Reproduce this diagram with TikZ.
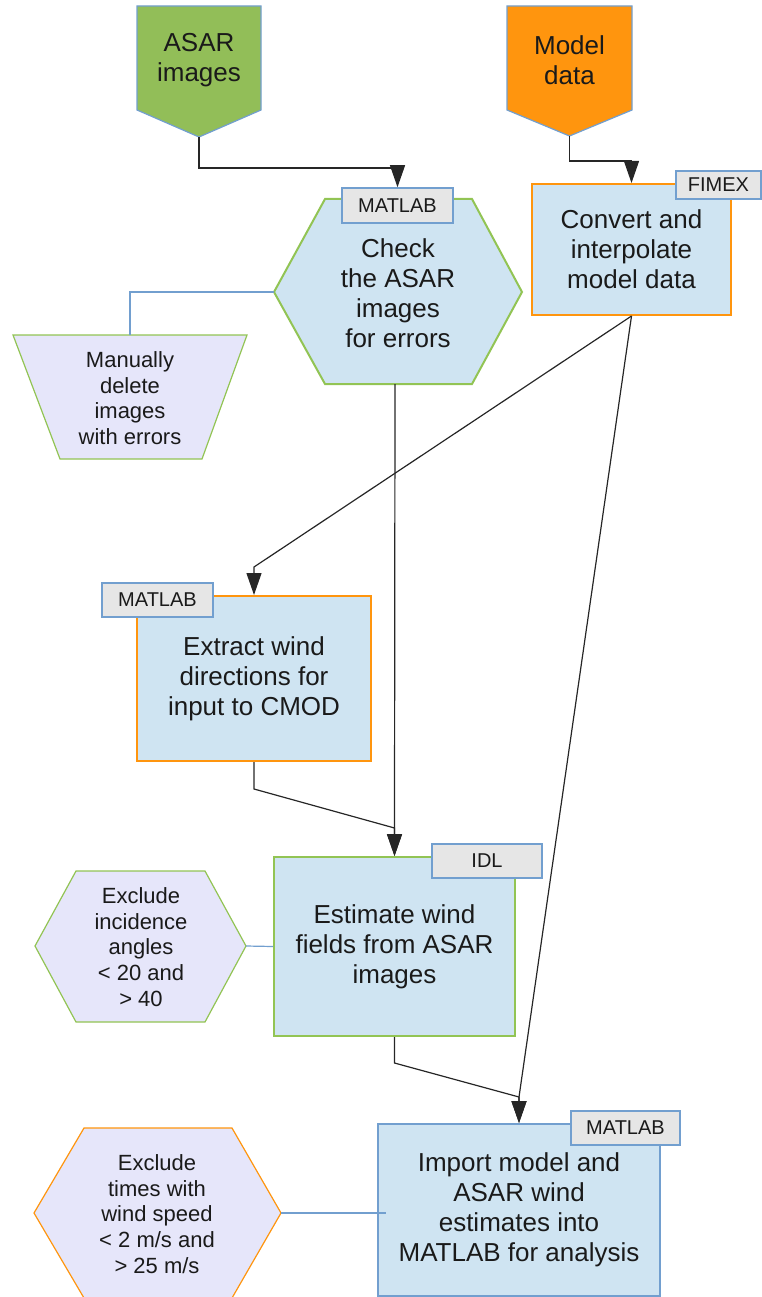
\documentclass[tikz,border=0pt]{standalone}
\usepackage{fontspec}
\setmainfont{Liberation Sans}
\usetikzlibrary{arrows.meta}
\definecolor{boxblue}{RGB}{207,228,242}
\definecolor{lav}{RGB}{230,230,250}
\definecolor{taggray}{RGB}{230,230,230}
\definecolor{edgeblue}{RGB}{114,159,207}
\definecolor{grn}{RGB}{146,196,84}
\definecolor{org}{RGB}{255,149,14}
\definecolor{grnfill}{RGB}{146,190,88}
\definecolor{txt}{RGB}{26,26,26}
\tikzset{
 bigtxt/.style={font=\fontsize{26}{30}\selectfont, text=txt, align=center, inner sep=0pt},
 smalltxt/.style={font=\fontsize{22}{25.7}\selectfont, text=txt, align=center, inner sep=0pt},
 tagbox/.style={draw=edgeblue, line width=1.5pt, fill=taggray, font=\fontsize{20}{22}\selectfont, inner sep=0pt, text=txt},
 procbox/.style={fill=boxblue, line width=2pt, inner sep=0pt, bigtxt},
 conn/.style={draw=black!85, line width=1.2pt, -{Triangle[length=22pt,width=15pt]}},
 plainconn/.style={draw=black!85, line width=1.2pt},
 bconn/.style={draw=edgeblue, line width=1.2pt},
}
\begin{document}
\begin{tikzpicture}[x=1pt,y=-1pt]
\useasboundingbox (0,0) rectangle (762,1297);

% input pentagons
\draw[fill=grnfill, draw=edgeblue, line width=1.2pt] (137,6) -- (261,6) -- (261,110) -- (199,137) -- (137,110) -- cycle;
\node[bigtxt] (asar) at (199,60) {ASAR\\images};
\coordinate (asarTip) at (199,137);
\draw[fill=org, draw=edgeblue, line width=1.2pt] (507,6) -- (632,6) -- (632,110) -- (569.5,136) -- (507,110) -- cycle;
\node[bigtxt] (model) at (569.5,60) {Model\\data};
\coordinate (modelTip) at (569.5,136);

% check hexagon
\draw[fill=boxblue, draw=grn, line width=2pt] (274,292) -- (325,199) -- (472,199) -- (522,292) -- (472,384) -- (325,384) -- cycle;
\node[bigtxt] (check) at (398,293) {Check\\the ASAR\\images\\for errors};
\coordinate (checkW) at (274,292);
\coordinate (checkS) at (395,384);
\node[tagbox, minimum width=111pt, minimum height=35pt] (checktag) at (397.5,205.5) {MATLAB};

% trapezoid
\draw[fill=lav, draw=grn, line width=1.2pt] (13,335) -- (247,335) -- (202,459) -- (60,459) -- cycle;
\node[smalltxt] (manual) at (130,398) {Manually\\delete\\images\\with errors};
\coordinate (manualN) at (130,335);

% convert box
\node[procbox, draw=org, minimum width=199pt, minimum height=131pt] (convert) at (631.5,249.5) {Convert and\\interpolate\\model data};
\node[tagbox, minimum width=85pt, minimum height=28pt] (fimex) at (718.5,185) {FIMEX};

% extract box
\node[procbox, draw=org, minimum width=234pt, minimum height=165pt] (extract) at (254,678.5) {Extract wind\\directions for\\input to CMOD};
\node[tagbox, minimum width=111pt, minimum height=34pt] (extag) at (157.5,600) {MATLAB};

% estimate box
\node[procbox, draw=grn, minimum width=241pt, minimum height=179pt] (estimate) at (394.5,946.5) {Estimate wind\\fields from ASAR\\images};
\node[tagbox, minimum width=110pt, minimum height=34pt] (idl) at (487,861) {IDL};

% incidence hexagon
\draw[fill=lav, draw=grn, line width=1.2pt] (35,946) -- (76,871) -- (205,871) -- (246,946) -- (205,1022) -- (76,1022) -- cycle;
\node[smalltxt] (incid) at (141,947) {Exclude\\incidence\\angles\\< 20 and\\> 40};
\coordinate (incidE) at (246,946);

% import box
\node[procbox, draw=edgeblue, minimum width=282pt, minimum height=172pt] (import) at (519,1210) {Import model and\\ASAR wind\\estimates into\\MATLAB for analysis};
\node[tagbox, minimum width=109pt, minimum height=34pt] (imtag) at (625.5,1128) {MATLAB};

% wind speed hexagon
\draw[fill=lav, draw=org, line width=1.2pt] (34,1213) -- (84,1128) -- (232,1128) -- (281,1213) -- (232,1298) -- (84,1298) -- cycle;
\node[smalltxt] (speed) at (157,1214) {Exclude\\times with\\wind speed\\< 2 m/s and\\> 25 m/s};
\coordinate (speedE) at (281,1213);
\coordinate (speedEnd) at (386,1213);

% junction points
\coordinate (j1) at (199,168);
\coordinate (j2) at (569.5,161);
\coordinate (j3) at (254,567);
\coordinate (j4) at (519,1097);
\coordinate (j5) at (394.5,828);
\coordinate (j6) at (254,789);
\coordinate (j7) at (394.5,1063);
\coordinate (j8) at (130,292);

% connectors
\draw[conn] (asarTip) -- (j1) -| (checktag.north);
\draw[conn] (modelTip) -- (j2) -| (convert.north);
\draw[conn] (convert.south) -- (j3) -- (extract.north);
\draw[conn] (convert.south) -- (j4) -- (import.north);
\draw[conn] (checkS) -- (j5) -- (estimate.north);
\draw[conn] (extract.south) -- (j6) -- (j5) -- (estimate.north);
\draw[conn] (estimate.south) -- (j7) -- (j4) -- (import.north);
\draw[bconn] (checkW) -- (j8) -- (manualN);
\draw[bconn] (incidE) -- (estimate.west);
\draw[bconn] (speedE) -- (speedEnd);
\end{tikzpicture}
\end{document}
